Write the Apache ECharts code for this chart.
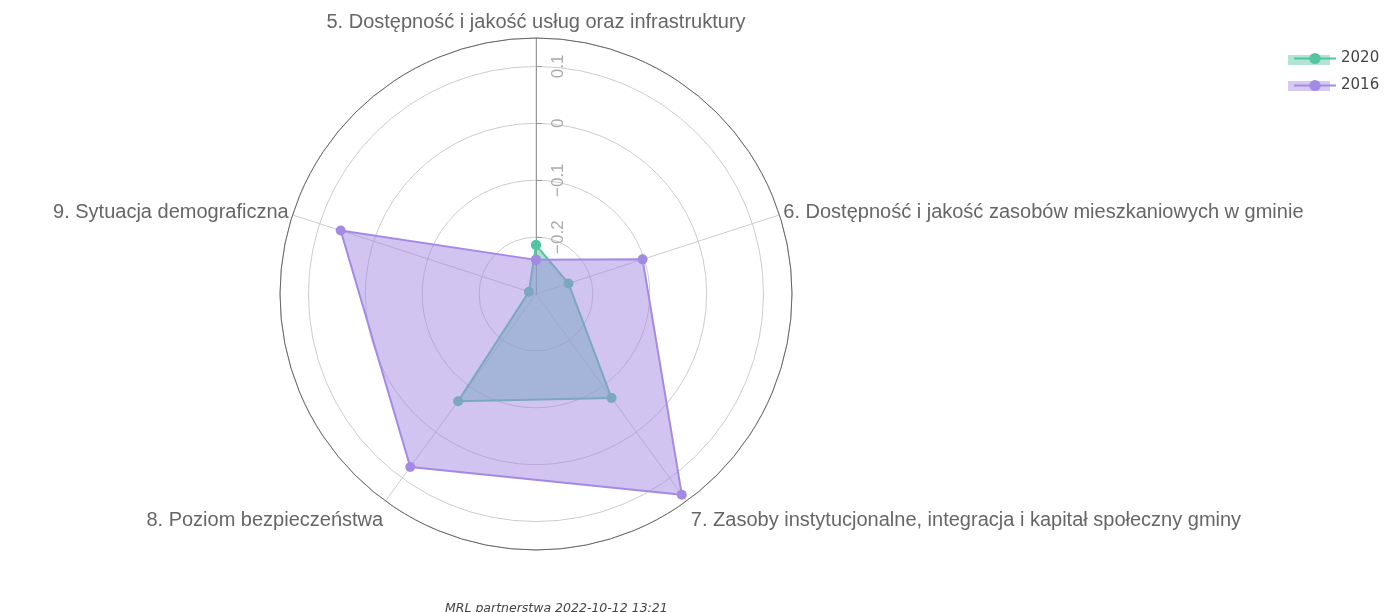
<!DOCTYPE html>
<html>
<head>
<meta charset="utf-8">
<script src="https://cdn.jsdelivr.net/npm/echarts@6/dist/echarts.min.js"></script>
<style>
  html, body { margin: 0; padding: 0; background: #fff; }
  #chart { width: 1392px; height: 612px; }
</style>
</head>
<body>
<div id="chart"></div>
<script>
// osie wykresu (kolejność zgodnie z ruchem wskazówek zegara)
var categories = [
  '5. Dostępność i jakość usług oraz infrastruktury',
  '6. Dostępność i jakość zasobów mieszkaniowych w gminie',
  '7. Zasoby instytucjonalne, integracja i kapitał społeczny gminy',
  '8. Poziom bezpieczeństwa',
  '9. Sytuacja demograficzna'
]
var seriesNames = ['2020', '2016']
var values2020 = [-0.214, -0.240, -0.074, -0.067, -0.287]
var values2016 = [-0.240, -0.103, 0.136, 0.076, 0.061]
var radialTicks = [-0.2, -0.1, 0, 0.1]

var kolory = ['#52c49f', '#a48ae4']
var krok = 360 / categories.length

// punkty [promień, kąt osi] + powrót do pierwszego, żeby zamknąć wielokąt
function closed(vals) {
  var out = []
  for (var i = 0; i < vals.length; i++) {
    out.push([vals[i], i * krok])
  }
  out.push([vals[0], 0])
  return out
}

// styl etykiety zależnie od położenia osi (góra / boki / dół)
var labelRich = ['gora', 'bok', 'dol', 'dol', 'bok']

var chart = echarts.init(document.getElementById('chart'))

var option = {
  animation: false,
  polar: {
    center: [536, 294],
    radius: 256
  },
  angleAxis: {
    type: 'value',
    min: 0,
    max: 360,
    interval: krok,
    startAngle: 90,
    clockwise: true,
    axisLine: { lineStyle: { color: '#666', width: 1 } },
    axisTick: { show: false },
    axisLabel: {
      margin: 4,
      showMaxLabel: false,
      fontFamily: 'Liberation Sans',
      fontSize: 20,
      color: '#666',
      formatter: function (v) {
        var i = Math.round(v / krok)
        if (i >= categories.length) return ''
        return '{' + labelRich[i] + '|' + categories[i] + '}'
      },
      rich: {
        gora: { fontFamily: 'Liberation Sans', fontSize: 20, color: '#666', lineHeight: 24 },
        bok: { fontFamily: 'Liberation Sans', fontSize: 20, color: '#666', lineHeight: 3 },
        dol: { fontFamily: 'Liberation Sans', fontSize: 20, color: '#666', lineHeight: 33, padding: [0, 0, 0, 2] }
      }
    },
    splitLine: { show: true, lineStyle: { color: '#cccccc', width: 1 } }
  },
  radiusAxis: {
    type: 'value',
    min: -0.3,
    max: 0.15,
    interval: 0.1,
    axisLine: { show: true, lineStyle: { color: '#999', width: 1 } },
    axisTick: { show: true, length: -6, lineStyle: { color: '#999' } },
    axisLabel: {
      rotate: 90,
      showMinLabel: false,
      showMaxLabel: false,
      margin: -31,
      fontFamily: 'Liberation Sans',
      fontSize: 17,
      color: '#aaa',
      formatter: function (v) {
        var ok = radialTicks.some(function (t) { return Math.abs(t - v) < 1e-9 })
        if (!ok) return ''
        return String(Math.round(v * 10) / 10).replace('-', '\u2212')
      }
    },
    splitLine: { show: true, lineStyle: { color: '#cccccc', width: 1 } }
  },
  legend: {
    orient: 'vertical',
    left: 1288,
    top: 46,
    itemWidth: 42,
    itemHeight: 14,
    itemGap: 12,
    textStyle: { fontFamily: 'DejaVu Sans', fontSize: 15, color: '#444', lineHeight: 14 },
    data: seriesNames
  },
  graphic: [
    { type: 'rect', z: 1, shape: { x: 1288, y: 55, width: 42, height: 10 }, style: { fill: kolory[0], opacity: 0.45 } },
    { type: 'rect', z: 1, shape: { x: 1288, y: 81, width: 42, height: 10 }, style: { fill: kolory[1], opacity: 0.45 } },
    {
      type: 'text', left: 445, top: 602,
      style: { text: 'MRL partnerstwa 2022-10-12 13:21', font: 'italic 12.5px "DejaVu Sans"', fill: '#444' }
    }
  ],
  series: [
    {
      name: seriesNames[0],
      type: 'line',
      coordinateSystem: 'polar',
      clip: false,
      data: closed(values2020),
      symbol: 'circle',
      symbolSize: 10,
      itemStyle: { color: kolory[0] },
      lineStyle: { color: kolory[0], width: 2 },
      areaStyle: { origin: 'start', color: kolory[0], opacity: 0.5 },
      z: 2
    },
    {
      name: seriesNames[1],
      type: 'line',
      coordinateSystem: 'polar',
      clip: false,
      data: closed(values2016),
      symbol: 'circle',
      symbolSize: 10,
      itemStyle: { color: kolory[1] },
      lineStyle: { color: kolory[1], width: 2 },
      areaStyle: { origin: 'start', color: kolory[1], opacity: 0.5 },
      z: 3
    }
  ]
}

chart.setOption(option)
</script>
</body>
</html>
